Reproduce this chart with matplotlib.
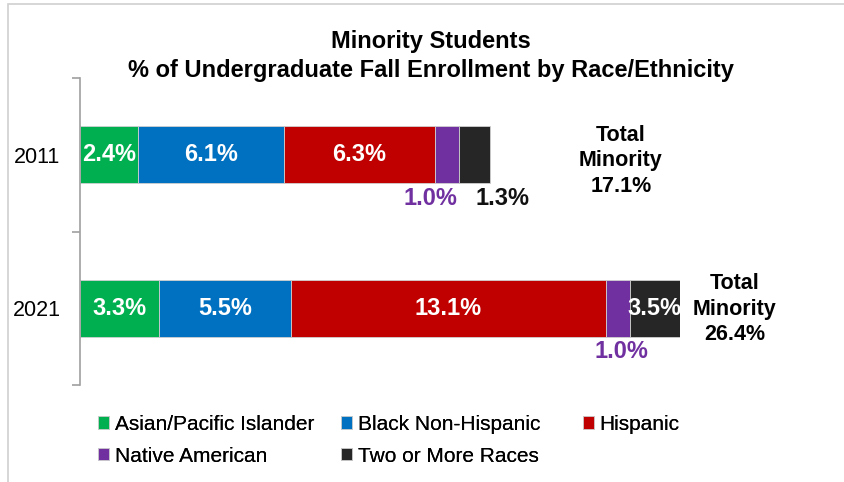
import matplotlib
matplotlib.use("Agg")
import matplotlib.pyplot as plt
from matplotlib.patches import Rectangle
import numpy as np

plt.rcParams['font.family'] = ['Liberation Sans', 'DejaVu Sans']

years = ["2011", "2021"]
series = ["Asian/Pacific Islander", "Black Non-Hispanic", "Hispanic",
          "Native American", "Two or More Races"]
asian = [2.4, 3.3]
black = [6.1, 5.5]
hispanic = [6.3, 13.1]
native = [1.0, 1.0]
two_more = [1.3, 3.5]
totals = [17.1, 26.4]
colors = ["#00B050", "#0070C0", "#C00000", "#7030A0", "#262626"]

values = [asian, black, hispanic, native, two_more]

fig = plt.figure(figsize=(8.45, 4.82), dpi=100)
ax = fig.add_axes([80/845, 97/482, 600/845, 307/482])

xmax = 25.0
y = np.arange(len(years))
left = np.zeros(len(years))
bars = []
for vals, col, name in zip(values, colors, series):
    b = ax.barh(y, vals, left=left, height=0.37, color=col, edgecolor="#d0d0d0",
                linewidth=0.6, label=name)
    bars.append(b)
    left = left + np.array(vals)

ax.set_xlim(0, xmax)
ax.set_ylim(1.5, -0.5)
ax.xaxis.set_visible(False)
for s in ["top", "right", "bottom"]:
    ax.spines[s].set_visible(False)
ax.spines["left"].set_color("#a0a0a0")
ax.spines["left"].set_linewidth(1.2)
ax.set_yticks([-0.5, 0.5, 1.5])
ax.set_yticklabels([])
ax.tick_params(axis="y", which="major", length=6, width=1.2, color="#a0a0a0", direction="out")
ax.set_yticks(y, minor=True)
ax.set_yticklabels(years, minor=True, fontsize=15.5)
ax.tick_params(axis="y", which="minor", length=0, pad=14)

# value labels
for i in range(len(years)):
    cum = 0.0
    for j, vals in enumerate(values):
        v = vals[i]
        start = cum
        end = min(cum + v, xmax)
        cum += v
        txt = f"{v:.1f}%"
        if j < 3 or (j == 4 and i == 1):
            ax.text((start + end) / 2, i, txt, ha="center", va="center",
                    color="white", fontsize=17, fontweight="bold")
        elif j == 3:
            ax.annotate(txt, ((start + end) / 2, i + 0.185), xytext=(-12 if i == 0 else 3, -11),
                        textcoords="offset points", ha="center", va="center",
                        color=colors[3], fontsize=17, fontweight="bold")
        else:
            ax.annotate(txt, ((start + end) / 2, i + 0.185), xytext=(20, -11),
                        textcoords="offset points", ha="center", va="center",
                        color="#111111", fontsize=17, fontweight="bold")

# total labels
tot_x = [22.54, 27.29]
tot_dy = [0.04, 0.005]
for i, t in enumerate(totals):
    ax.text(tot_x[i], i + tot_dy[i], f"Total\nMinority\n{t:.1f}%", ha="center", va="center",
            fontsize=15.5, fontweight="bold", color="black", linespacing=1.3,
            clip_on=False)

fig.text(0.51, 0.884, "Minority Students\n% of Undergraduate Fall Enrollment by Race/Ethnicity",
         ha="center", va="center", fontsize=17, fontweight="bold", linespacing=1.3)

# legend: three single-column blocks laid out row by row
col_groups = [[0, 3], [1, 4], [2]]
col_x = [98, 341, 583]
for grp, cx in zip(col_groups, col_x):
    lg = fig.legend(handles=[bars[k] for k in grp], labels=[series[k] for k in grp],
                    ncol=1, loc="upper left",
                    bbox_to_anchor=(cx/845, 1 - 415/482), frameon=False, fontsize=15,
                    handlelength=0.55, handleheight=0.55, handletextpad=0.25,
                    labelspacing=0.6, borderaxespad=0, borderpad=0)
    fig.add_artist(lg)

# outer chart border
fig.patches.append(Rectangle((8/845, -0.1), 1.0, 1 - 4/482 + 0.1, transform=fig.transFigure,
                             fill=False, edgecolor="#d0d0d0", linewidth=1.2))

fig.savefig("out.png", dpi=100)
